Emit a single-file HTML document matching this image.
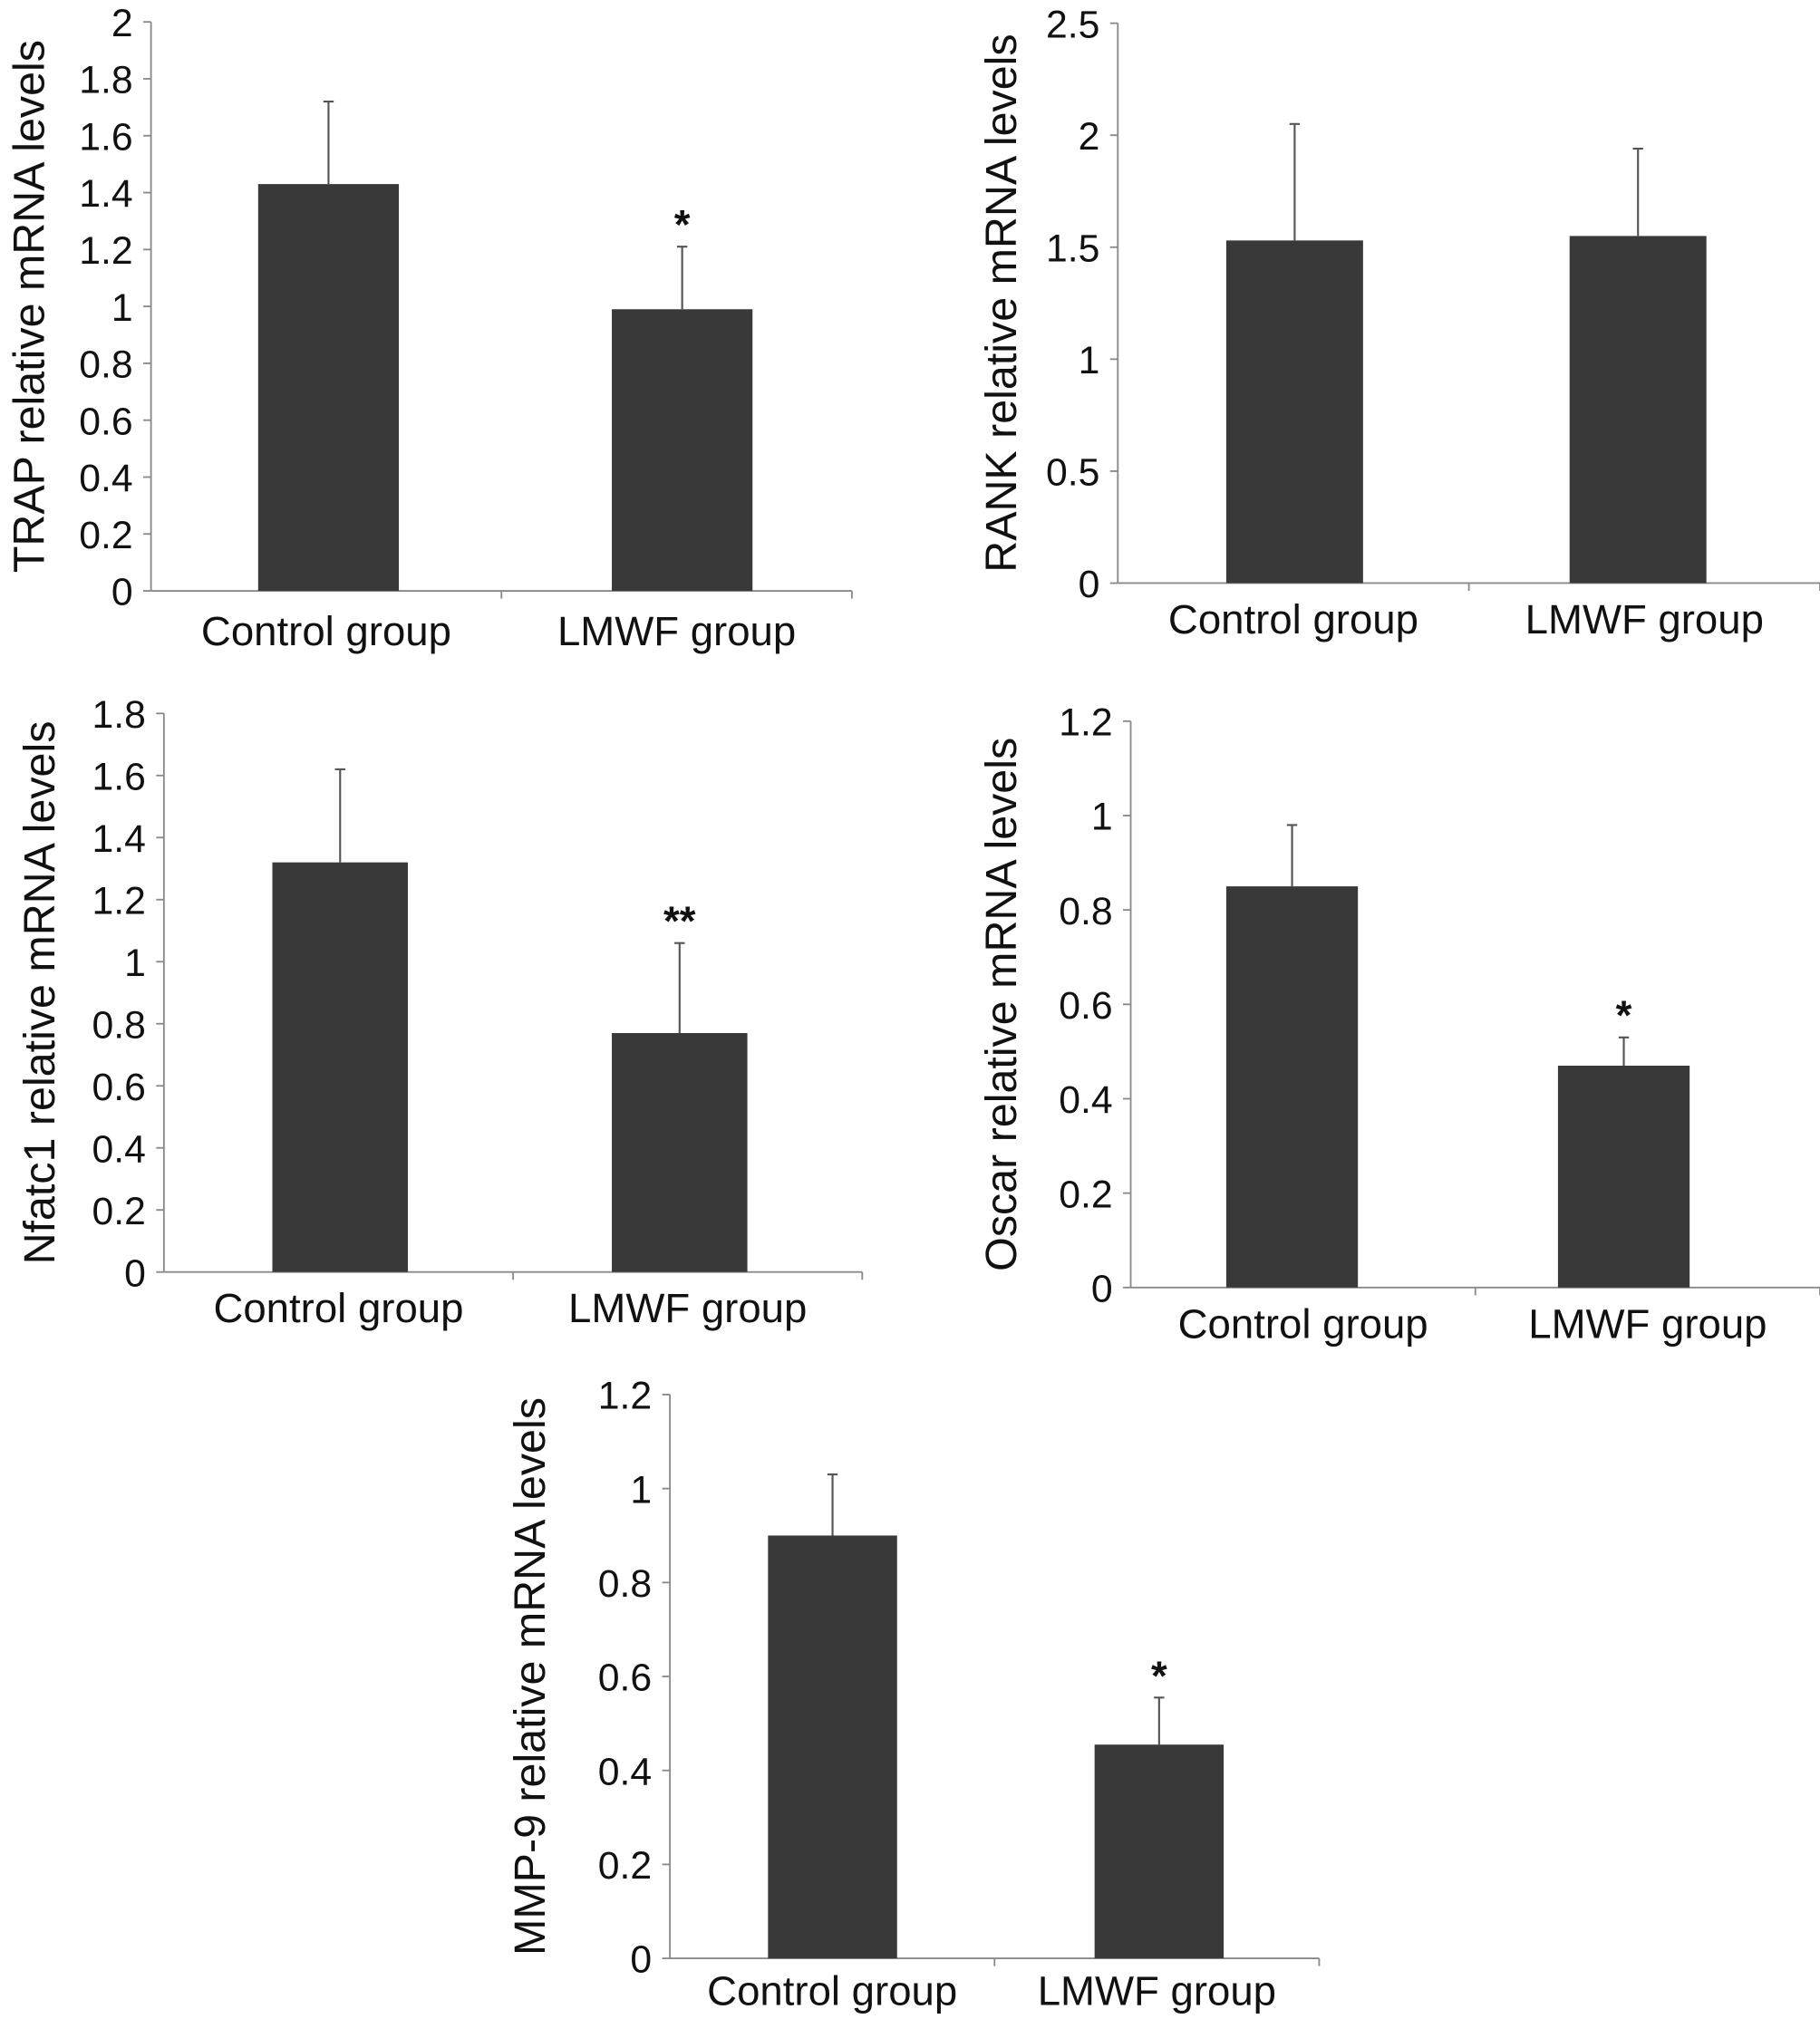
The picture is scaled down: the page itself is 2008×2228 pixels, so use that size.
<!DOCTYPE html>
<html><head><meta charset="utf-8">
<style>
html,body{margin:0;padding:0;background:#fff;}
svg{display:block;}
text{font-family:"Liberation Sans",Arial,sans-serif;fill:#111;}
</style></head>
<body>
<svg id="fig" width="2008" height="2228" viewBox="0 0 1410 1565" preserveAspectRatio="none" xmlns="http://www.w3.org/2000/svg"></svg>
<script>
const categories = ["Control group", "LMWF group"];
const trapValues = [1.43, 0.99];
const trapErrors = [1.72, 1.21];
const rankValues = [1.53, 1.55];
const rankErrors = [2.05, 1.94];
const nfatValues = [1.32, 0.77];
const nfatErrors = [1.62, 1.06];
const oscarValues = [0.85, 0.47];
const oscarErrors = [0.98, 0.53];
const mmpValues = [0.90, 0.455];
const mmpErrors = [1.03, 0.555];
const trapTicks = ["0","0.2","0.4","0.6","0.8","1","1.2","1.4","1.6","1.8","2"];
const rankTicks = ["0","0.5","1","1.5","2","2.5"];
const nfatTicks = ["0","0.2","0.4","0.6","0.8","1","1.2","1.4","1.6","1.8"];
const oscarTicks = ["0","0.2","0.4","0.6","0.8","1","1.2"];
const mmpTicks = ["0","0.2","0.4","0.6","0.8","1","1.2"];
const trapSig = ["", "*"];
const rankSig = ["", ""];
const nfatSig = ["", "**"];
const oscarSig = ["", "*"];
const mmpSig = ["", "*"];

const NS = "http://www.w3.org/2000/svg";
const svg = document.getElementById("fig");
function mk(tag, attrs, parent){
  const e = document.createElementNS(NS, tag);
  for (const k in attrs) e.setAttribute(k, attrs[k]);
  parent.appendChild(e);
  return e;
}
const panels = [
  {key:"trap", title:"TRAP relative mRNA levels", vals:trapValues, errs:trapErrors, ticks:trapTicks, sig:trapSig, max:2, ax:117, x1:660, y0:458, yt:17, bw:109, tx:22, ly:489, barL:[200,474]},
  {key:"rank", title:"RANK relative mRNA levels", vals:rankValues, errs:rankErrors, ticks:rankTicks, sig:rankSig, max:2.5, ax:866, x1:1410, y0:452, yt:18, bw:106, tx:775, ly:480, barL:[950,1216]},
  {key:"nfatc1", title:"Nfatc1 relative mRNA levels", vals:nfatValues, errs:nfatErrors, ticks:nfatTicks, sig:nfatSig, max:1.8, ax:127, x1:668, y0:986, yt:553, bw:105, tx:30, ly:1014, barL:[211,474]},
  {key:"oscar", title:"Oscar relative mRNA levels", vals:oscarValues, errs:oscarErrors, ticks:oscarTicks, sig:oscarSig, max:1.2, ax:876, x1:1410, y0:998, yt:559, bw:102, tx:775, ly:1026, barL:[950,1207]},
  {key:"mmp9", title:"MMP-9 relative mRNA levels", vals:mmpValues, errs:mmpErrors, ticks:mmpTicks, sig:mmpSig, max:1.2, ax:519, x1:1022, y0:1518, yt:1081, bw:100, tx:410, ly:1543, barL:[595,848]}
];
panels.forEach(p => {
  const g = mk("g", {}, svg);
  
  
  const y = v => p.y0 - (v / p.max) * (p.y0 - p.yt);
  const step = p.max / (p.ticks.length - 1);
  const ya = mk("line", {x1:p.ax, y1:p.yt, x2:p.ax, y2:p.y0, stroke:"#8a8a8a", "stroke-width":1.3}, g);
  
  
  p.ticks.forEach((t, i) => {
    const yy = y(i * step);
    mk("line", {x1:p.ax-6, y1:yy, x2:p.ax, y2:yy, stroke:"#8a8a8a", "stroke-width":1.3}, g);
    const tl = mk("text", {x:p.ax-14, y:yy+11, "text-anchor":"end", "font-size":30}, g);
    tl.textContent = t;
    
    
  });
  const xa = mk("line", {x1:p.ax, y1:p.y0, x2:p.x1, y2:p.y0, stroke:"#8a8a8a", "stroke-width":1.3}, g);
  
  
  const mid = (p.ax + p.x1) / 2;
  [mid, p.x1].forEach(xx => mk("line", {x1:xx, y1:p.y0, x2:xx, y2:p.y0+6, stroke:"#8a8a8a", "stroke-width":1.3}, g));
  const tcy = (p.yt + p.y0) / 2;
  const tt = mk("text", {x:p.tx, y:tcy, "text-anchor":"middle", "font-size":34, transform:`rotate(-90 ${p.tx} ${tcy})`, dy:12}, g);
  tt.textContent = p.title;
  
  
  categories.forEach((c, i) => {
    const bx = p.barL[i];
    const cx = bx + p.bw / 2;
    const top = y(p.vals[i]);
    const b = mk("rect", {x:bx, y:top, width:p.bw, height:p.y0-top, fill:"#393939"}, g);
    
    
    const ey = y(p.errs[i]);
    const eb = mk("path", {d:`M${cx} ${top} V${ey} M${cx-4} ${ey} H${cx+4}`, stroke:"#555", "stroke-width":1.5, fill:"none"}, g);
    
    
    if (p.sig[i]) {
      const s = mk("text", {x:cx, y:ey-6, "text-anchor":"middle", "font-size":32, "font-weight":"bold"}, g);
      s.textContent = p.sig[i];
      
      
    }
    const lx = p.ax + (p.x1 - p.ax) * (i * 2 + 1) / 4;
    const cl = mk("text", {x:lx, y:p.ly+11, "text-anchor":"middle", "font-size":32}, g);
    cl.textContent = c;
    
    
  });
});
</script>
</body></html>
